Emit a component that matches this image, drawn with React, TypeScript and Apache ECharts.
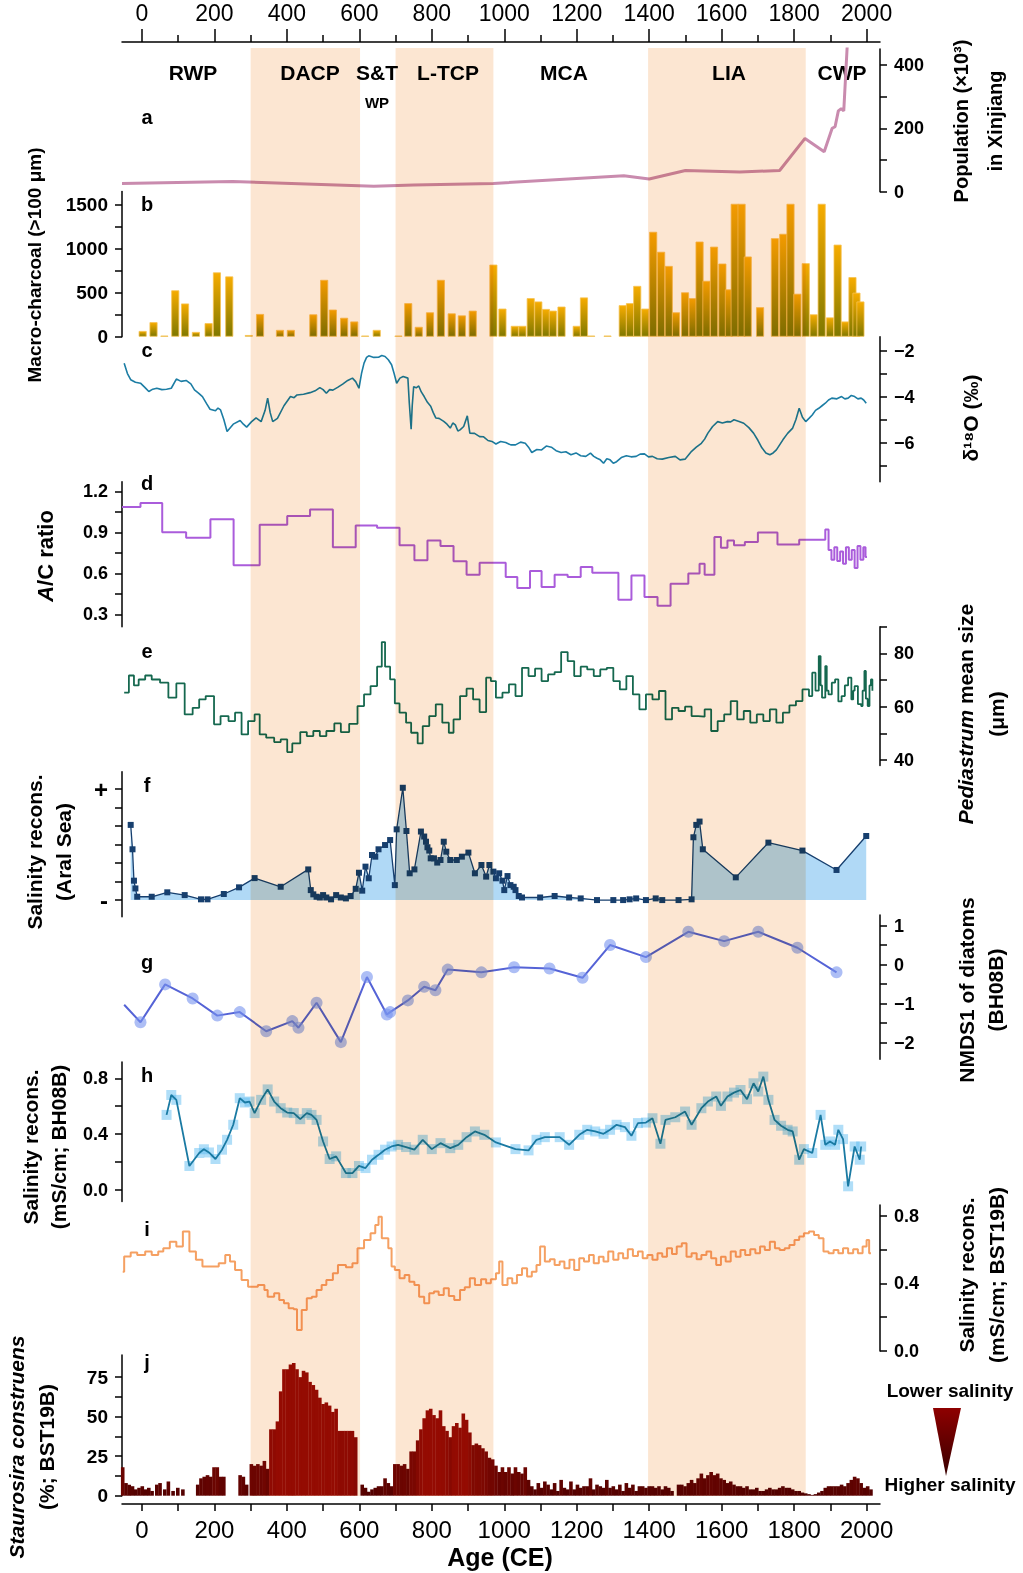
import React, { useEffect, useRef } from "react";
import * as echarts from "echarts";

const W = 1023;
const H = 1573;
const FONT = "'Liberation Sans', Arial, Helvetica, sans-serif";
const X_MIN = -55;
const X_MAX = 2037;

// ---------- x-axis ticks ----------
const xLabelTicks = [0, 200, 400, 600, 800, 1000, 1200, 1400, 1600, 1800, 2000];
const xMinorTicks = [100, 300, 500, 700, 900, 1100, 1300, 1500, 1700, 1900];
const xAllTicks = [0, 100, 200, 300, 400, 500, 600, 700, 800, 900, 1000, 1100, 1200, 1300, 1400, 1500, 1600, 1700, 1800, 1900, 2000];

// ---------- climate periods (CE) ----------
const bandStarts = [300, 700, 1397];
const bandEnds = [602, 970, 1832];

// ---------- a: population (x10^3) ----------
const population: [number, number][] = [
  [-55, 26], [250, 32], [640, 17], [750, 21], [970, 26], [1330, 50], [1400, 40], [1500, 67],
  [1650, 62], [1760, 67], [1830, 168], [1883, 126], [1905, 200], [1913, 205], [1922, 255],
  [1930, 262], [1937, 255], [1947, 470],
];

// ---------- b: macro-charcoal ----------
const charcoal: [number, number][] = [
  [2, 65], [32, 165], [62, 12], [92, 527], [119, 377], [149, 54], [184, 154], [207, 731], [241, 685],
  [295, 19], [326, 258], [381, 77], [411, 77], [473, 254], [503, 646], [527, 308], [558, 215], [586, 173],
  [616, 12], [648, 77], [708, 12], [735, 381], [764, 112], [795, 277], [825, 646], [855, 265], [883, 242],
  [913, 296], [970, 819], [995, 319], [1029, 123], [1050, 123], [1073, 438], [1094, 400], [1115, 315],
  [1134, 296], [1158, 342], [1200, 123], [1220, 446], [1240, 12], [1285, 12], [1327, 358], [1347, 381],
  [1367, 577], [1389, 319], [1411, 1192], [1433, 965], [1454, 804], [1474, 277], [1499, 504], [1520, 438],
  [1539, 1081], [1558, 635], [1579, 1023], [1602, 831], [1620, 538], [1636, 1510], [1655, 1510],
  [1672, 911], [1706, 335], [1747, 1119], [1770, 1169], [1790, 1510], [1809, 488], [1832, 835],
  [1854, 254], [1876, 1510], [1899, 219], [1920, 1046], [1941, 173], [1961, 677], [1972, 500], [1983, 400],
];

// ---------- c: d18O ----------
const d18O: [number, number][] = [
  [-49, -2.55], [-40, -3.0], [-31, -3.27], [-18, -3.38], [-4, -3.42], [8, -3.6], [19, -3.78], [30, -3.68],
  [41, -3.64], [55, -3.7], [68, -3.68], [81, -3.64], [95, -3.24], [108, -3.34], [122, -3.3], [135, -3.45],
  [145, -3.71], [157, -3.86], [167, -4.0], [178, -4.3], [188, -4.55], [203, -4.62], [210, -4.5], [217, -4.58],
  [226, -5.0], [235, -5.52], [252, -5.2], [271, -5.04], [280, -5.2], [289, -5.33], [302, -5.1], [315, -4.93],
  [329, -5.09], [340, -4.6], [347, -4.07], [354, -4.7], [361, -5.09], [374, -4.95], [392, -4.4], [410, -4.0],
  [420, -4.05], [428, -3.93], [446, -3.9], [464, -3.83], [478, -3.75], [491, -3.61], [500, -3.7], [509, -3.86],
  [518, -3.7], [527, -3.72], [540, -3.6], [554, -3.46], [568, -3.3], [581, -3.2], [590, -3.35], [599, -3.64],
  [606, -3.0], [613, -2.55], [620, -2.3], [626, -2.23], [640, -2.3], [653, -2.29], [662, -2.22], [671, -2.26],
  [680, -2.4], [689, -2.62], [696, -3.0], [703, -3.42], [712, -3.2], [721, -3.13], [734, -3.2], [738, -4.3],
  [743, -5.42], [746, -4.4], [750, -3.57], [757, -3.62], [764, -3.54], [771, -3.8], [779, -4.0], [788, -4.25],
  [797, -4.42], [804, -4.7], [811, -4.93], [820, -4.95], [833, -5.08], [842, -5.2], [851, -5.37], [858, -5.15],
  [865, -5.23], [872, -5.5], [878, -5.45], [888, -5.3], [898, -4.84], [905, -5.59], [918, -5.6], [932, -5.74],
  [943, -5.75], [955, -5.91], [966, -5.95], [977, -6.06], [990, -5.95], [1004, -6.0], [1018, -6.1], [1031, -6.1],
  [1045, -5.98], [1058, -6.03], [1067, -6.2], [1076, -6.43], [1090, -6.3], [1103, -6.32], [1116, -6.15],
  [1130, -6.2], [1143, -6.35], [1157, -6.43], [1170, -6.4], [1184, -6.53], [1198, -6.45], [1211, -6.57],
  [1225, -6.6], [1238, -6.46], [1247, -6.6], [1256, -6.68], [1265, -6.75], [1274, -6.9], [1283, -6.7],
  [1292, -6.75], [1301, -6.9], [1310, -6.83], [1323, -6.65], [1337, -6.57], [1350, -6.62], [1364, -6.6],
  [1375, -6.5], [1387, -6.49], [1398, -6.62], [1409, -6.6], [1422, -6.7], [1436, -6.72], [1454, -6.65],
  [1472, -6.6], [1485, -6.75], [1499, -6.72], [1508, -6.55], [1517, -6.38], [1530, -6.2], [1544, -6.03],
  [1553, -5.85], [1562, -5.59], [1575, -5.3], [1589, -5.09], [1602, -5.15], [1616, -5.09], [1625, -5.1],
  [1634, -5.01], [1648, -5.08], [1661, -5.16], [1675, -5.35], [1688, -5.59], [1700, -5.9], [1711, -6.23],
  [1722, -6.45], [1733, -6.53], [1742, -6.45], [1751, -6.32], [1760, -6.1], [1769, -5.88], [1782, -5.6],
  [1796, -5.37], [1805, -5.0], [1814, -4.51], [1823, -4.9], [1832, -5.09], [1841, -4.95], [1850, -4.8],
  [1859, -4.6], [1868, -4.51], [1877, -4.4], [1886, -4.29], [1895, -4.15], [1904, -4.07], [1918, -4.1],
  [1931, -4.0], [1940, -4.1], [1949, -4.07], [1958, -3.95], [1967, -4.0], [1976, -4.1], [1985, -4.07],
  [1992, -4.15], [1999, -4.29],
];

// ---------- d: A/C ratio (step starts) ----------
const acRatio: [number, number][] = [
  [-55, 1.085], [-4, 1.115], [56, 0.9], [122, 0.86], [189, 0.995], [253, 0.66], [325, 0.956], [401, 1.02],
  [464, 1.066], [527, 0.79], [590, 0.95], [649, 0.934], [711, 0.805], [752, 0.695], [788, 0.841], [824, 0.8],
  [860, 0.688], [896, 0.59], [932, 0.678], [1004, 0.573], [1036, 0.493], [1071, 0.617], [1103, 0.5], [1139, 0.59],
  [1175, 0.573], [1211, 0.646], [1243, 0.605], [1315, 0.407], [1351, 0.585], [1387, 0.427], [1423, 0.363],
  [1459, 0.524], [1508, 0.598], [1539, 0.671], [1553, 0.59], [1580, 0.866], [1598, 0.788], [1616, 0.841],
  [1634, 0.805], [1664, 0.83], [1700, 0.898], [1754, 0.81], [1814, 0.846], [1886, 0.92], [1895, 0.77],
  [1903, 0.7], [1911, 0.79], [1919, 0.69], [1927, 0.76], [1935, 0.67], [1943, 0.79], [1951, 0.7], [1959, 0.77],
  [1967, 0.64], [1975, 0.8], [1983, 0.7], [1991, 0.79], [1997, 0.72], [2001, 0.72],
];

// ---------- e: Pediastrum mean size (step starts) ----------
const pediastrum: [number, number][] = [
  [-49, 65.3], [-36, 71.7], [-22, 68], [-9, 70.2], [9, 71.7], [27, 70.2], [50, 69], [73, 63.4], [95, 68.75],
  [118, 57.1], [140, 59.6], [158, 62.75], [176, 64], [199, 53.4], [217, 56.5], [239, 54.6], [257, 57.75],
  [275, 49.6], [293, 54.6], [311, 57.1], [325, 49.6], [343, 48.4], [365, 46.75], [383, 47.75], [401, 43],
  [415, 46.25], [437, 50.5], [455, 49], [473, 50.9], [491, 49], [509, 50.9], [531, 53.75], [549, 50.5],
  [572, 53.6], [595, 60.25], [613, 64.6], [631, 67.75], [649, 75], [662, 84.25], [671, 75], [685, 70.25],
  [698, 61.25], [711, 57.75], [729, 54], [743, 50.25], [761, 46.25], [775, 52.75], [793, 56.5], [811, 60.9],
  [829, 54], [847, 50.25], [860, 55.25], [878, 64], [896, 66.75], [914, 62.75], [932, 58], [950, 70.9],
  [963, 69.6], [977, 63.4], [995, 65.25], [1013, 68.4], [1031, 64], [1049, 74.6], [1067, 71.5], [1085, 74.25],
  [1103, 69.6], [1121, 72.1], [1139, 73], [1157, 80.5], [1175, 77.1], [1193, 71.5], [1211, 75], [1229, 74],
  [1247, 71.5], [1265, 74], [1283, 74.6], [1301, 69.6], [1319, 66.5], [1337, 71.5], [1355, 64.6], [1373, 59],
  [1391, 64.6], [1409, 62.75], [1427, 65.9], [1445, 55.25], [1463, 59.6], [1481, 58.4], [1499, 60], [1517, 56.5],
  [1535, 56.25], [1553, 59], [1571, 50.9], [1589, 54.6], [1607, 57.1], [1625, 62.1], [1643, 55.25], [1661, 58.4],
  [1679, 54], [1697, 57.1], [1715, 54.6], [1733, 59], [1751, 54], [1769, 57.75], [1787, 60.5], [1805, 62.1],
  [1823, 66.5], [1841, 64], [1850, 72.75], [1859, 66], [1868, 79], [1873, 68], [1877, 63.4], [1886, 75.25],
  [1890, 66], [1895, 64.6], [1904, 69], [1913, 70.25], [1922, 62], [1931, 64], [1940, 68], [1949, 70.9],
  [1958, 62.75], [1963, 66], [1967, 67.75], [1976, 61], [1985, 60.25], [1989, 66], [1994, 73.4], [1998, 63],
  [2003, 60.25], [2008, 68], [2012, 70.25], [2016, 66],
];

// ---------- f: salinity reconstruction, Aral Sea (relative: 0 = "-", 6 = "+") ----------
const aralSalinity: [number, number][] = [
  [-31, 4.07], [-26, 2.75], [-22, 1.05], [-18, 0.63], [-13, 0.18], [27, 0.18], [70, 0.42], [118, 0.27],
  [163, 0.04], [181, 0.04], [226, 0.33], [268, 0.69], [311, 1.19], [383, 0.72], [459, 1.66], [466, 0.54],
  [473, 0.31], [482, 0.18], [491, 0.14], [500, 0.27], [509, 0.14], [522, 0.04], [536, 0.27], [549, 0.14],
  [563, 0.09], [576, 0.22], [590, 0.61], [599, 1.48], [608, 0.51], [617, 1.81], [626, 1.18], [635, 2.44],
  [644, 2.35], [653, 2.75], [671, 2.98], [685, 3.25], [698, 0.81], [703, 3.83], [720, 6.08], [730, 3.74],
  [739, 1.45], [752, 1.66], [770, 3.71], [779, 3.44], [784, 3.16], [788, 2.86], [793, 2.68], [797, 2.26],
  [806, 2.26], [815, 2.03], [824, 2.17], [833, 3.16], [840, 2.62], [851, 2.17], [869, 2.17], [883, 2.35],
  [901, 2.57], [919, 1.45], [937, 1.9], [950, 1.27], [959, 1.9], [970, 1.54], [977, 1.18], [986, 1.45],
  [995, 1.05], [1000, 0.54], [1009, 1.3], [1017, 0.81], [1026, 0.72], [1031, 0.54], [1040, 0.22], [1049, 0.14],
  [1099, 0.14], [1139, 0.22], [1179, 0.14], [1211, 0.09], [1256, 0], [1301, 0], [1328, 0], [1346, 0.04],
  [1364, 0.09], [1391, 0], [1418, 0.09], [1436, 0], [1481, 0], [1517, 0.04], [1522, 3.4], [1530, 4.07],
  [1539, 4.25], [1548, 2.75], [1639, 1.23], [1729, 3.11], [1823, 2.68], [1917, 1.63], [1999, 3.47],
];

// ---------- g: NMDS1 of diatoms (BH08B) ----------
const nmdsStart: [number, number] = [-49, -1.03];
const nmds1: [number, number][] = [
  [-4, -1.48], [64, -0.51], [140, -0.87], [208, -1.31], [270, -1.22], [343, -1.71], [415, -1.45], [432, -1.62],
  [482, -0.98], [549, -1.99], [621, -0.32], [676, -1.28], [685, -1.22], [734, -0.92], [779, -0.57], [810, -0.66],
  [844, -0.13], [937, -0.2], [1027, -0.07], [1125, -0.1], [1216, -0.34], [1292, 0.5], [1391, 0.19], [1508, 0.84],
  [1607, 0.6], [1701, 0.84], [1809, 0.43], [1917, -0.2],
];

// ---------- h: salinity recons. (mS/cm; BH08B) ----------
const salBH08B: [number, number][] = [
  [68, 0.537], [81, 0.68], [95, 0.645], [131, 0.17], [158, 0.263], [171, 0.29], [185, 0.267], [203, 0.22],
  [221, 0.287], [235, 0.358], [252, 0.466], [270, 0.657], [284, 0.626], [297, 0.633], [311, 0.55], [329, 0.645],
  [347, 0.72], [365, 0.633], [383, 0.585], [401, 0.554], [419, 0.55], [437, 0.506], [455, 0.55], [468, 0.537],
  [482, 0.501], [500, 0.346], [518, 0.22], [536, 0.239], [563, 0.119], [581, 0.119], [599, 0.17], [617, 0.155],
  [635, 0.215], [653, 0.25], [671, 0.287], [689, 0.31], [707, 0.322], [729, 0.306], [752, 0.287], [775, 0.358],
  [800, 0.291], [824, 0.334], [851, 0.298], [873, 0.322], [896, 0.377], [919, 0.418], [945, 0.394], [977, 0.339],
  [1031, 0.291], [1067, 0.282], [1089, 0.358], [1112, 0.377], [1153, 0.377], [1179, 0.322], [1207, 0.394],
  [1229, 0.43], [1251, 0.418], [1274, 0.401], [1292, 0.43], [1310, 0.466], [1333, 0.449], [1351, 0.387],
  [1369, 0.478], [1391, 0.482], [1409, 0.513], [1431, 0.33], [1445, 0.501], [1472, 0.52], [1499, 0.561],
  [1517, 0.466], [1544, 0.585], [1562, 0.633], [1585, 0.669], [1598, 0.602], [1616, 0.669], [1634, 0.697],
  [1652, 0.716], [1670, 0.65], [1688, 0.764], [1701, 0.705], [1715, 0.812], [1729, 0.645], [1746, 0.501],
  [1764, 0.459], [1782, 0.43], [1796, 0.418], [1814, 0.215], [1827, 0.291], [1850, 0.263], [1873, 0.537],
  [1886, 0.322], [1899, 0.346], [1913, 0.322], [1922, 0.43], [1935, 0.363], [1949, 0.024], [1967, 0.31],
  [1981, 0.215], [1985, 0.31],
];

// ---------- i: salinity recons. (mS/cm; BST19B) (step starts) ----------
const salBST19B: [number, number][] = [
  [-53, 0.47], [-49, 0.56], [-31, 0.583], [-13, 0.569], [9, 0.589], [27, 0.569], [45, 0.589], [59, 0.609],
  [77, 0.648], [95, 0.619], [113, 0.708], [131, 0.589], [149, 0.54], [167, 0.5], [185, 0.5], [212, 0.52],
  [230, 0.569], [243, 0.53], [257, 0.48], [275, 0.421], [293, 0.381], [320, 0.391], [338, 0.362], [347, 0.322],
  [365, 0.342], [379, 0.302], [392, 0.283], [405, 0.253], [419, 0.247], [428, 0.125], [441, 0.243], [455, 0.312],
  [469, 0.322], [482, 0.362], [496, 0.391], [509, 0.421], [527, 0.46], [541, 0.51], [563, 0.496], [581, 0.52],
  [595, 0.609], [613, 0.658], [631, 0.698], [644, 0.747], [653, 0.796], [662, 0.668], [680, 0.609], [689, 0.5],
  [698, 0.48], [711, 0.431], [725, 0.451], [738, 0.411], [752, 0.391], [765, 0.322], [779, 0.283], [793, 0.342],
  [806, 0.352], [819, 0.332], [833, 0.372], [847, 0.326], [862, 0.302], [878, 0.362], [891, 0.377], [905, 0.431],
  [919, 0.391], [936, 0.425], [950, 0.401], [963, 0.425], [977, 0.46], [986, 0.53], [995, 0.391], [1009, 0.431],
  [1022, 0.401], [1035, 0.451], [1049, 0.49], [1063, 0.441], [1076, 0.47], [1089, 0.51], [1099, 0.619],
  [1112, 0.53], [1126, 0.544], [1139, 0.51], [1153, 0.53], [1166, 0.49], [1180, 0.54], [1193, 0.48],
  [1207, 0.549], [1220, 0.53], [1234, 0.569], [1247, 0.52], [1261, 0.559], [1274, 0.53], [1287, 0.589],
  [1301, 0.54], [1315, 0.579], [1328, 0.549], [1341, 0.603], [1355, 0.563], [1369, 0.589], [1382, 0.549],
  [1395, 0.569], [1409, 0.54], [1423, 0.579], [1436, 0.559], [1449, 0.609], [1463, 0.575], [1476, 0.619],
  [1490, 0.638], [1503, 0.559], [1517, 0.579], [1531, 0.544], [1544, 0.569], [1558, 0.589], [1571, 0.549],
  [1585, 0.51], [1598, 0.559], [1611, 0.53], [1625, 0.589], [1639, 0.559], [1652, 0.599], [1665, 0.569],
  [1679, 0.603], [1693, 0.579], [1706, 0.619], [1719, 0.599], [1733, 0.648], [1747, 0.609], [1760, 0.599],
  [1774, 0.609], [1787, 0.628], [1801, 0.658], [1814, 0.678], [1827, 0.698], [1841, 0.708], [1855, 0.688],
  [1868, 0.668], [1881, 0.589], [1895, 0.579], [1909, 0.599], [1922, 0.579], [1935, 0.609], [1949, 0.579],
  [1963, 0.603], [1976, 0.579], [1989, 0.619], [2000, 0.658], [2007, 0.579], [2012, 0.579],
];

// ---------- j: Staurosira construens (%) ----------
const staurosira: [number, number][] = [
  [-53, 18], [-44, 8], [-35, 7], [-26, 6], [-17, 4], [-8, 5], [1, 6], [10, 4], [19, 5], [28, 3], [41, 7], [50, 8],
  [63, 4], [73, 9], [86, 3], [99, 5], [113, 4],
  [154, 7], [163, 11], [172, 12], [181, 13], [190, 12], [199, 18], [208, 18], [217, 12], [226, 12],
  [271, 13], [280, 12], [289, 7],
  [302, 20], [311, 19], [320, 20], [329, 19], [338, 22], [347, 17], [356, 42], [365, 42], [374, 47], [383, 66],
  [392, 80], [401, 80], [410, 83], [419, 84], [428, 80], [437, 75], [446, 79], [455, 78], [464, 72], [473, 70],
  [482, 67], [491, 62], [500, 58], [509, 59], [518, 57], [527, 53], [536, 55], [545, 41], [554, 41], [563, 41],
  [572, 41], [581, 41], [590, 37],
  [608, 7], [617, 5], [626, 2.5], [635, 4], [644, 5], [653, 6], [662, 6], [671, 11], [680, 8], [689, 6],
  [698, 20], [707, 20], [716, 19], [725, 20], [734, 17], [743, 28], [752, 28], [761, 35], [770, 42], [779, 49],
  [788, 54], [797, 55], [806, 51], [815, 49], [824, 54], [833, 44], [842, 41], [851, 37], [860, 44], [869, 46],
  [878, 43], [887, 52], [896, 48], [905, 40], [914, 32], [923, 33], [932, 32], [941, 30], [950, 28], [959, 24],
  [968, 23],
  [977, 19], [986, 15], [995, 18], [1004, 15], [1013, 18], [1022, 14], [1031, 18], [1040, 15], [1049, 14],
  [1058, 18], [1067, 10], [1076, 6], [1085, 4], [1094, 8], [1103, 5], [1112, 9], [1121, 7], [1130, 4], [1139, 8],
  [1148, 3], [1157, 10], [1166, 5], [1175, 4], [1184, 9], [1193, 4], [1202, 7], [1211, 5], [1220, 6], [1229, 6],
  [1238, 11], [1247, 4], [1256, 7], [1265, 6], [1274, 5], [1283, 10], [1292, 5], [1301, 6], [1310, 4], [1319, 7],
  [1328, 3], [1337, 8], [1346, 5], [1355, 7], [1364, 3], [1373, 6], [1382, 6], [1391, 5], [1400, 6], [1409, 6],
  [1418, 5], [1427, 6], [1436, 4], [1445, 6], [1454, 5], [1463, 3],
  [1481, 7], [1490, 7], [1499, 6], [1508, 8], [1517, 10], [1526, 8], [1535, 11], [1544, 14], [1553, 11],
  [1562, 13], [1571, 15], [1580, 13], [1589, 14], [1598, 11], [1607, 10], [1616, 8], [1625, 9], [1634, 7],
  [1643, 6], [1652, 6], [1661, 5], [1670, 6], [1679, 4], [1688, 4], [1697, 5], [1706, 3], [1715, 3], [1724, 4],
  [1733, 5], [1742, 4], [1751, 4], [1760, 5], [1769, 6], [1778, 5], [1787, 5], [1796, 4], [1805, 3], [1814, 3],
  [1823, 2], [1832, 1.5], [1841, 1], [1850, 0.5], [1859, 1], [1868, 2], [1877, 3], [1886, 5], [1895, 6],
  [1904, 6], [1913, 6], [1922, 6], [1931, 7], [1940, 6], [1949, 8], [1958, 10], [1967, 12], [1976, 11],
  [1985, 8], [1994, 5], [2003, 6], [2012, 4],
];

// ---------- axis ticks / labels per panel ----------
const popTicks = [0, 100, 200, 300, 400];
const popLabels = [0, 200, 400];
const charTicks = [0, 250, 500, 750, 1000, 1250, 1500];
const charLabels = [0, 500, 1000, 1500];
const d18Ticks = [-7, -6, -5, -4, -3, -2];
const d18Labels = [-6, -4, -2];
const acTicks = [0.3, 0.45, 0.6, 0.75, 0.9, 1.05, 1.2];
const acLabels = [0.3, 0.6, 0.9, 1.2];
const pedTicks = [40, 50, 60, 70, 80, 90];
const pedLabels = [40, 60, 80];
const aralTicks = [0, 1, 2, 3, 4, 5, 6];
const aralLabels = [0, 6];
const nmdsTicks = [-2, -1.5, -1, -0.5, 0, 0.5, 1];
const nmdsLabels = [-2, -1, 0, 1];
const bhTicks = [0, 0.2, 0.4, 0.6, 0.8];
const bhLabels = [0, 0.4, 0.8];
const bstTicks = [0, 0.2, 0.4, 0.6, 0.8];
const bstLabels = [0, 0.4, 0.8];
const stTicks = [0, 12.5, 25, 37.5, 50, 62.5, 75];
const stLabels = [0, 25, 50, 75];

const AX = { color: "#000", width: 1.5 };

function yAxisDef(
  gridIndex: number,
  position: "left" | "right",
  min: number,
  max: number,
  ticks: number[],
  labels: number[],
  formatter?: (v: number) => string,
  fontSize = 18
) {
  return {
    type: "value",
    gridIndex,
    position,
    min,
    max,
    axisLine: { show: true, onZero: false, lineStyle: AX },
    axisTick: { show: true, length: 7, customValues: ticks, lineStyle: AX },
    axisLabel: {
      show: true,
      customValues: labels,
      formatter: formatter || ((v: number) => String(v).replace("-", "\u2212")),
      color: "#000",
      fontWeight: "bold",
      fontSize,
      fontFamily: FONT,
      margin: 14,
    },
    splitLine: { show: false },
  };
}

function vText(x: number, y: number, text: string, size = 21, italic = false) {
  return {
    type: "text",
    x,
    y,
    rotation: Math.PI / 2,
    style: {
      text,
      fill: "#000",
      font: `${italic ? "italic " : ""}bold ${size}px ${FONT}`,
      align: "center",
      verticalAlign: "middle",
    },
    silent: true,
  };
}

function hText(x: number, y: number, text: string, size = 20) {
  return {
    type: "text",
    x,
    y,
    style: {
      text,
      fill: "#000",
      font: `bold ${size}px ${FONT}`,
      align: "center",
      verticalAlign: "middle",
    },
    silent: true,
  };
}

function richVText(x: number, y: number, text: string, size: number) {
  const base = { fontWeight: "bold", fontSize: size, fontFamily: FONT, fill: "#000", color: "#000" };
  return {
    type: "text",
    x,
    y,
    rotation: Math.PI / 2,
    style: {
      text,
      align: "center",
      verticalAlign: "middle",
      fill: "#000",
      font: `bold ${size}px ${FONT}`,
      rich: {
        i: { ...base, fontStyle: "italic" },
        n: { ...base },
      },
    },
    silent: true,
  };
}

function buildOption() {
  // panel vertical extents (px)
  const panels = [
    { top: 49, h: 142.7 }, // a
    { top: 191.5, h: 145.2 }, // b
    { top: 336.7, h: 145 }, // c
    { top: 481.7, h: 145 }, // d
    { top: 626.7, h: 138.7 }, // e
    { top: 771.7, h: 145 }, // f
    { top: 915, h: 144.3 }, // g
    { top: 1062, h: 139.6 }, // h
    { top: 1205, h: 146 }, // i
    { top: 1355, h: 140.7 }, // j
  ];
  const grids: any[] = panels.map((p) => ({
    left: 122,
    right: 143,
    top: p.top,
    height: p.h,
    outerBoundsMode: "none",
    containLabel: false,
  }));
  // frame grid (index 10): top and bottom age axes
  grids.push({ left: 122, right: 143, top: 42, height: 1462, outerBoundsMode: "none", containLabel: false });

  const xAxes: any[] = panels.map((_, i) => ({
    type: "value",
    gridIndex: i,
    min: X_MIN,
    max: X_MAX,
    show: false,
  }));
  const plain = (v: number) => String(v);
  // top axis major
  xAxes.push({
    type: "value",
    gridIndex: 10,
    position: "top",
    min: X_MIN,
    max: X_MAX,
    axisLine: { show: true, onZero: false, lineStyle: AX },
    axisTick: { show: true, length: 13, customValues: xLabelTicks, lineStyle: AX },
    axisLabel: {
      show: true,
      customValues: xLabelTicks,
      formatter: plain,
      color: "#000",
      fontSize: 23,
      fontFamily: FONT,
      margin: 18,
    },
    splitLine: { show: false },
  });
  // top axis minor
  xAxes.push({
    type: "value",
    gridIndex: 10,
    position: "top",
    offset: 0,
    min: X_MIN,
    max: X_MAX,
    axisLine: { show: false, onZero: false },
    axisTick: { show: true, length: 7, customValues: xMinorTicks, lineStyle: AX },
    axisLabel: { show: false },
    splitLine: { show: false },
  });
  // bottom axis
  xAxes.push({
    type: "value",
    gridIndex: 10,
    position: "bottom",
    min: X_MIN,
    max: X_MAX,
    axisLine: { show: true, onZero: false, lineStyle: AX },
    axisTick: { show: true, length: 7, customValues: xAllTicks, lineStyle: AX },
    axisLabel: {
      show: true,
      customValues: xLabelTicks,
      formatter: plain,
      color: "#000",
      fontSize: 24,
      fontFamily: FONT,
      margin: 13,
    },
    splitLine: { show: false },
  });

  const fix1 = (v: number) => v.toFixed(1);
  const yAxes: any[] = [
    yAxisDef(0, "right", 0, 450, popTicks, popLabels),
    yAxisDef(1, "left", 0, 1650, charTicks, charLabels, undefined, 19),
    yAxisDef(2, "right", -7.7, -1.4, d18Ticks, d18Labels),
    yAxisDef(3, "left", 0.21, 1.27, acTicks, acLabels, fix1),
    yAxisDef(4, "right", 38, 90, pedTicks, pedLabels),
    yAxisDef(5, "left", -0.9, 6.95, aralTicks, aralLabels, (v: number) => (v > 3 ? "+" : "-"), 24),
    yAxisDef(6, "right", -2.43, 1.27, nmdsTicks, nmdsLabels),
    yAxisDef(7, "left", -0.086, 0.917, bhTicks, bhLabels, fix1),
    yAxisDef(8, "right", 0, 0.865, bstTicks, bstLabels, fix1),
    yAxisDef(9, "left", 0, 89, stTicks, stLabels, undefined, 19),
    { type: "value", gridIndex: 10, min: 0, max: 1, show: false },
  ];

  const series: any[] = [
    {
      type: "line",
      xAxisIndex: 0,
      yAxisIndex: 0,
      data: population,
      symbol: "none",
      lineStyle: { color: "#C98BAE", width: 3 },
      clip: true,
    },
    {
      type: "bar",
      xAxisIndex: 1,
      yAxisIndex: 1,
      data: charcoal,
      barWidth: 8,
      itemStyle: {
        color: new echarts.graphic.LinearGradient(0, 0, 0, 1, [
          { offset: 0, color: "#F7AC00" },
          { offset: 1, color: "#7F7800" },
        ]),
        borderColor: "#F6C150",
        borderWidth: 0.8,
      },
    },
    {
      type: "line",
      xAxisIndex: 2,
      yAxisIndex: 2,
      data: d18O,
      symbol: "none",
      lineStyle: { color: "#1C7DA4", width: 1.6 },
    },
    {
      type: "line",
      xAxisIndex: 3,
      yAxisIndex: 3,
      data: acRatio,
      step: "end",
      symbol: "none",
      lineStyle: { color: "#AA5CDB", width: 2 },
    },
    {
      type: "line",
      xAxisIndex: 4,
      yAxisIndex: 4,
      data: pediastrum,
      step: "end",
      symbol: "none",
      lineStyle: { color: "#15684F", width: 1.8 },
    },
    {
      type: "line",
      xAxisIndex: 5,
      yAxisIndex: 5,
      data: aralSalinity,
      symbol: "rect",
      symbolSize: 6,
      itemStyle: { color: "#173F6E" },
      lineStyle: { color: "#173F6E", width: 1.3 },
      areaStyle: { color: "#B0D9F6", opacity: 1 },
    },
    {
      type: "line",
      xAxisIndex: 6,
      yAxisIndex: 6,
      data: [{ value: nmdsStart, symbol: "none" }, ...nmds1],
      symbol: "circle",
      symbolSize: 12,
      itemStyle: { color: "rgba(118,146,238,0.6)" },
      lineStyle: { color: "#5563D6", width: 2 },
    },
    {
      type: "scatter",
      xAxisIndex: 7,
      yAxisIndex: 7,
      data: salBH08B,
      symbol: "rect",
      symbolSize: 10,
      itemStyle: { color: "rgba(90,185,240,0.6)" },
    },
    {
      type: "line",
      xAxisIndex: 7,
      yAxisIndex: 7,
      data: salBH08B,
      symbol: "none",
      lineStyle: { color: "#1A7AA3", width: 1.8 },
    },
    {
      type: "line",
      xAxisIndex: 8,
      yAxisIndex: 8,
      data: salBST19B,
      step: "end",
      symbol: "none",
      lineStyle: { color: "#F5A062", width: 2 },
    },
    {
      type: "bar",
      xAxisIndex: 9,
      yAxisIndex: 9,
      data: staurosira,
      barWidth: 3.6,
      itemStyle: { color: "#8B0A00" },
    },
  ];

  const graphic: any[] = [
    // period labels
    hText(193, 72, "RWP", 21),
    hText(310, 72, "DACP", 21),
    hText(377, 72, "S&T", 21),
    hText(377, 102, "WP", 15),
    hText(448, 72, "L-TCP", 21),
    hText(564, 72, "MCA", 21),
    hText(729, 72, "LIA", 21),
    hText(842, 72, "CWP", 21),
    // panel letters
    hText(147, 117, "a"),
    hText(147, 204, "b"),
    hText(147, 350, "c"),
    hText(147, 483, "d"),
    hText(147, 651, "e"),
    hText(147, 785, "f"),
    hText(147, 962, "g"),
    hText(147, 1075, "h"),
    hText(147, 1229, "i"),
    hText(147, 1362, "j"),
    // axis names
    vText(961, 121, "Population (\u00D710\u00B3)", 20),
    vText(995, 121, "in Xinjiang", 20),
    vText(34, 265, "Macro-charcoal (>100 \u03BCm)", 19),
    vText(970, 418, "\u03B4\u00B9\u2078O (\u2030)", 21),
    richVText(45, 556, "{i|A}{n|/C ratio}", 22),
    richVText(965, 714, "{i|Pediastrum}{n| mean size}", 21),
    vText(996, 714, "(\u03BCm)", 21),
    vText(34, 852, "Salinity recons.", 21),
    vText(63, 852, "(Aral Sea)", 21),
    vText(966, 990, "NMDS1 of diatoms", 21),
    vText(995, 990, "(BH08B)", 21),
    vText(30, 1147, "Salinity recons.", 21),
    vText(58, 1147, "(mS/cm; BH08B)", 21),
    vText(966, 1275, "Salinity recons.", 21),
    vText(996, 1275, "(mS/cm; BST19B)", 21),
    vText(16, 1447, "Staurosira construens", 21, true),
    vText(46, 1447, "(%; BST19B)", 21),
    hText(500, 1557, "Age (CE)", 25),
    // legend for panel j
    hText(950, 1390, "Lower salinity", 19),
    hText(950, 1484, "Higher salinity", 19),
    {
      type: "polygon",
      shape: { points: [[933, 1408], [961, 1408], [946, 1476]] },
      style: {
        fill: new echarts.graphic.LinearGradient(0, 0, 0, 1, [
          { offset: 0, color: "#8E0000" },
          { offset: 1, color: "#380000" },
        ]),
      },
      silent: true,
    },
  ];

  return {
    animation: false,
    backgroundColor: "#ffffff",
    textStyle: { fontFamily: FONT },
    grid: grids,
    xAxis: xAxes,
    yAxis: yAxes,
    visualMap: [
      {
        show: false,
        type: "continuous",
        seriesIndex: 10,
        dimension: 1,
        min: 0,
        max: 45,
        inRange: { color: ["#4E0000", "#960C02"] },
      },
    ],
    series,
    graphic,
  };
}

function buildBandOption() {
  return {
    animation: false,
    backgroundColor: "transparent",
    grid: { left: 122, right: 143, top: 48, height: 1448, outerBoundsMode: "none", containLabel: false },
    xAxis: { type: "value", min: X_MIN, max: X_MAX, show: false },
    yAxis: { type: "value", min: 0, max: 1, show: false },
    series: [
      {
        type: "line",
        data: [[X_MIN, 0]],
        symbol: "none",
        lineStyle: { opacity: 0 },
        silent: true,
        markArea: {
          silent: true,
          itemStyle: { color: "#FCE6D2", opacity: 1 },
          data: bandStarts.map((s, i) => [{ xAxis: s }, { xAxis: bandEnds[i] }]),
        },
      },
    ],
  };
}

export default function App() {
  const mainRef = useRef<HTMLDivElement>(null);
  const bandRef = useRef<HTMLDivElement>(null);

  useEffect(() => {
    if (!mainRef.current || !bandRef.current) return;
    const chart = echarts.init(mainRef.current, undefined, { renderer: "svg", width: W, height: H });
    chart.setOption(buildOption() as any);
    const bands = echarts.init(bandRef.current, undefined, { renderer: "svg", width: W, height: H });
    bands.setOption(buildBandOption() as any);
    return () => {
      chart.dispose();
      bands.dispose();
    };
  }, []);

  return (
    <div style={{ position: "absolute", left: 0, top: 0, width: W, height: H, background: "#fff" }}>
      <div ref={mainRef} style={{ position: "absolute", left: 0, top: 0, width: W, height: H }} />
      <div
        ref={bandRef}
        style={{
          position: "absolute",
          left: 0,
          top: 0,
          width: W,
          height: H,
          mixBlendMode: "multiply",
          pointerEvents: "none",
        }}
      />
    </div>
  );
}
